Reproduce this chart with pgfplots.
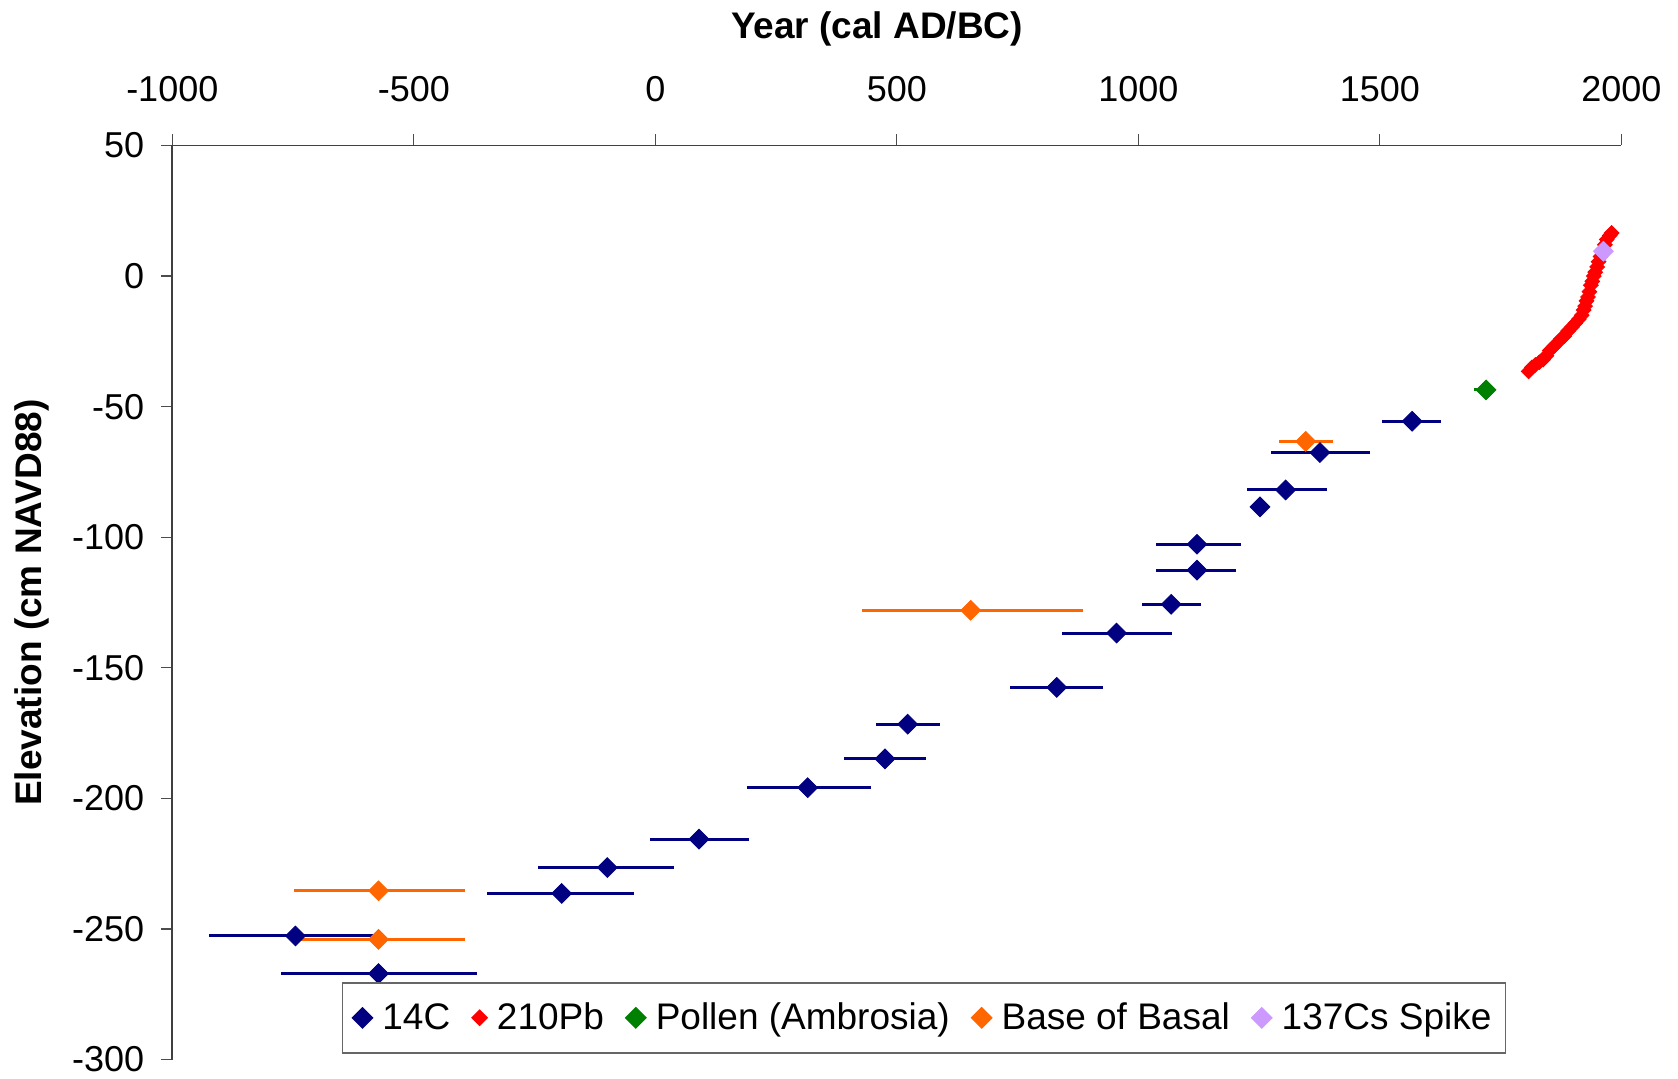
\documentclass[border=0pt]{standalone}
\usepackage{fontspec}
\setmainfont{Liberation Sans}
\usepackage{pgfplots}
\usepackage{pgfplotstable}
\pgfplotsset{compat=1.18}
\definecolor{c14}{HTML}{000080}
\definecolor{cpb}{HTML}{FF0000}
\definecolor{cpol}{HTML}{008000}
\definecolor{cbb}{HTML}{FF6600}
\definecolor{ccs}{HTML}{CC99FF}

\pgfplotstableread{
x y em ep
1567 -55.6 62 60
1376 -67.6 102 103
1305 -81.9 79 85
1252 -88.4 0 0
1121.5 -102.7 84 91
1121.5 -112.6 84 80
1068 -125.7 61 61
955 -136.7 113 115
831 -157.5 96 96
522.6 -171.6 65 67
475.6 -184.9 84 85
315.5 -195.9 125 132
90.5 -215.6 101 103
-99.4 -226.5 143 138
-193.8 -236.4 155 150
-745 -252.7 178 166
-573 -267.1 202 203
}\tabC

\pgfplotstableread{
x y
1808 -36.5
1815 -35
1822 -34
1830 -33
1838 -32
1845 -30.5
1852 -28.5
1860 -27
1868 -25.5
1875 -24
1882 -23
1890 -21
1898 -19.5
1905 -18
1912 -16.5
1918 -15
1922 -13
1925 -11.5
1928 -9.5
1931 -8
1934 -6
1937 -3.5
1940 -2
1943 0
1946 1.5
1950 3.5
1953 5.5
1957 7.5
1962 10
1966 12
1970 14
1976 15.5
1980 16.5
}\tabPb

\pgfplotstableread{
x y em ep
1720 -43.6 25 0
}\tabPol

\pgfplotstableread{
x y em ep
1346.6 -63.3 55 56
653 -128 226 233
-573 -235.4 174 180
-573 -254 174 180
}\tabBB

\pgfplotstableread{
x y
1963 9.5
}\tabCs

\begin{document}
\begin{tikzpicture}
\begin{axis}[
 at={(0,0)}, anchor=south west,
 scale only axis, width=724.5pt, height=457pt,
 xmin=-1000, xmax=2000, ymin=-300, ymax=50,
 axis x line=top, axis y line=left,
 axis line style={-, line width=0.8pt, black!75},
 xtick={-1000,-500,...,2000}, ytick={-300,-250,...,50},
 tick align=outside, major tick length=5.5pt,
 tick style={line width=0.6pt, black!70},
 /pgf/number format/assume math mode=true,
 /pgf/number format/1000 sep={},
 ticklabel style={font=\fontsize{18}{21}\selectfont},
 xticklabel style={yshift=13pt},
 yticklabel style={xshift=-5pt},
 xlabel={Year (cal AD/BC)}, ylabel={Elevation (cm NAVD88)},
 label style={font=\fontsize{18.5}{22}\selectfont\bfseries},
 xlabel style={at={(axis description cs:0.4864,1.127)}, anchor=center},
 ylabel style={at={(axis description cs:-0.0969,0.5)}, anchor=center},
 legend columns=5,
 legend style={at={(axis description cs:0.5188,0.0456)}, anchor=center,
   draw=black!60, line width=0.8pt, font=\fontsize{18.5}{22}\selectfont,
   inner xsep=5pt, inner ysep=8pt,
   /tikz/every odd column/.append style={column sep=3pt},
   /tikz/every even column/.append style={column sep=9pt}},
 legend cell align=left,
]
\addplot[only marks, color=c14, mark=square*, mark size=3.5pt,
  mark options={rotate=45, fill=c14, draw=c14},
  error bars/.cd, x dir=both, x explicit, error mark=none,
  error bar style={line width=1.5pt, c14}]
  table[x=x, y=y, x error plus=ep, x error minus=em] {\tabC};
\addlegendentry{14C}
\addplot[only marks, color=cpb, mark=square*, mark size=2.6pt,
  mark options={rotate=45, fill=cpb, draw=cpb}]
  table[x=x, y=y] {\tabPb};
\addlegendentry{210Pb}
\addplot[only marks, color=cpol, mark=square*, mark size=3.5pt,
  mark options={rotate=45, fill=cpol, draw=cpol},
  error bars/.cd, x dir=both, x explicit, error mark=none,
  error bar style={line width=1.5pt, cpol}]
  table[x=x, y=y, x error plus=ep, x error minus=em] {\tabPol};
\addlegendentry{Pollen (Ambrosia)}
\addplot[only marks, color=cbb, mark=square*, mark size=3.5pt,
  mark options={rotate=45, fill=cbb, draw=cbb},
  error bars/.cd, x dir=both, x explicit, error mark=none,
  error bar style={line width=1.5pt, cbb}]
  table[x=x, y=y, x error plus=ep, x error minus=em] {\tabBB};
\addlegendentry{Base of Basal}
\addplot[only marks, color=ccs, mark=square*, mark size=3.5pt,
  mark options={rotate=45, fill=ccs, draw=ccs}]
  table[x=x, y=y] {\tabCs};
\addlegendentry{137Cs Spike}
\end{axis}
\pgfresetboundingbox
\path[use as bounding box] (-86.15pt,-9.25pt) rectangle (752.85pt,529.75pt);
\end{tikzpicture}
\end{document}
